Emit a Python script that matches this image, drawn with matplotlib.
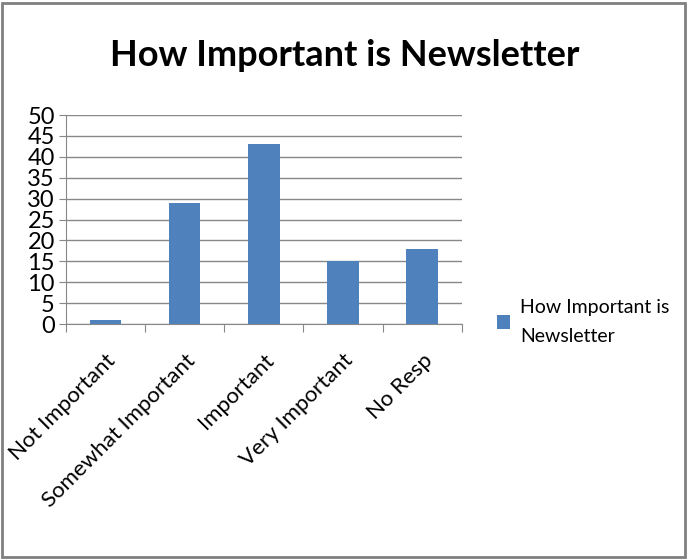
import matplotlib.pyplot as plt
import numpy as np
from matplotlib.patches import Rectangle

categories = ['Not Important', 'Somewhat Important', 'Important', 'Very Important', 'No Resp']
values = [1, 29, 43, 15, 18]
series_name = 'How Important is\nNewsletter'

plt.rcParams['font.family'] = ['Lato', 'DejaVu Sans']

fig = plt.figure(figsize=(6.87, 5.6), dpi=100)
ax = fig.add_axes([0.096, 0.4214, 0.576, 0.3732])

x = np.arange(len(categories))
bars = ax.bar(x, values, width=0.4, color='#4f81bd', zorder=3, label=series_name)

ax.set_xlim(-0.5, len(categories) - 0.5)
ax.set_ylim(0, 50)
ax.set_yticks(range(0, 51, 5))
ax.tick_params(axis='y', labelsize=17, length=5, color='#888888', pad=3)
ax.yaxis.grid(True, color='#888888', linewidth=1, zorder=0)

# category ticks sit between the bars
ax.set_xticks(np.arange(-0.5, len(categories), 1.0))
ax.set_xticklabels([])
ax.set_xticks(x, minor=True)
ax.set_xticklabels(categories, minor=True, rotation=45, ha='right',
                   rotation_mode='anchor', fontsize=16)
ax.tick_params(axis='x', which='major', length=6, color='#888888')
ax.tick_params(axis='x', which='minor', length=0, pad=19)

for side in ['top', 'right']:
    ax.spines[side].set_visible(False)
ax.spines['left'].set_color('#888888')
ax.spines['bottom'].set_color('#888888')

fig.text(0.502, 0.9, 'How Important is Newsletter', ha='center', va='center',
         fontsize=26, fontweight='bold')

leg = fig.legend(handles=[bars], labels=[series_name], loc='center left',
                 bbox_to_anchor=(0.723, 0.425), frameon=False, fontsize=14,
                 borderpad=0, borderaxespad=0,
                 handlelength=0.7, handleheight=0.7, handletextpad=0.5)
for t in leg.get_texts():
    t.set_linespacing(1.8)

fig.patches.append(Rectangle((0.003, 0.005), 0.994, 0.99, transform=fig.transFigure,
                             fill=False, edgecolor='#808080', linewidth=2))

fig.savefig('out.png', dpi=100)
